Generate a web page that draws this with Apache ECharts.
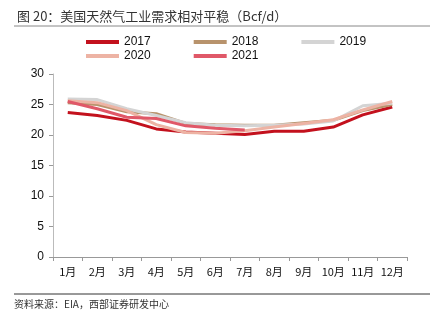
<!DOCTYPE html>
<html>
<head>
<meta charset="utf-8">
<script src="https://cdn.jsdelivr.net/npm/echarts@6/dist/echarts.min.js"></script>
<style>
  html, body { margin: 0; padding: 0; background: #fff; }
  #chart { width: 436px; height: 322px; }
</style>
</head>
<body>
<div id="chart"></div>
<script>
// US natural gas industrial demand by month, Bcf/d
const months = ['1月', '2月', '3月', '4月', '5月', '6月', '7月', '8月', '9月', '10月', '11月', '12月'];
const y2017 = [23.7, 23.2, 22.4, 21.0, 20.5, 20.3, 20.1, 20.6, 20.6, 21.3, 23.3, 24.6];
const y2018 = [25.3, 25.0, 23.8, 23.5, 21.9, 21.7, 21.6, 21.6, 22.0, 22.4, 24.0, 25.0];
const y2019 = [25.9, 25.8, 24.3, 23.2, 22.0, 21.6, 21.5, 21.6, 21.8, 22.3, 24.8, 25.2];
const y2020 = [25.6, 25.3, 24.0, 21.7, 20.4, 20.3, 20.7, 21.3, 21.9, 22.5, 24.1, 25.5];
const y2021 = [25.5, 24.3, 22.9, 22.7, 21.5, 21.1, 20.8];
const yTicks = [0, 5, 10, 15, 20, 25, 30];

const seriesDefs = [
  { name: '2017', data: y2017, color: '#C3111D' },
  { name: '2018', data: y2018, color: '#B8936C' },
  { name: '2019', data: y2019, color: '#D4D4D4' },
  { name: '2020', data: y2020, color: '#EDB3A4' },
  { name: '2021', data: y2021, color: '#E05868' }
];

const chart = echarts.init(document.getElementById('chart'), null, { renderer: 'canvas' });

const legendBase = {
  left: 81,
  itemWidth: 33,
  itemHeight: 4,
  itemGap: 43,
  icon: 'rect',
  textStyle: { fontFamily: 'Liberation Sans, Arial', fontSize: 12, color: '#111' },
  selectedMode: false
};

chart.setOption({
  animation: false,
  backgroundColor: '#fff',
  title: {
    text: '图 20：美国天然气工业需求相对平稳（Bcf/d）',
    left: 12,
    top: 5,
    textStyle: { fontFamily: 'Noto Sans CJK SC', fontSize: 13, fontWeight: 'normal', color: '#333' }
  },
  legend: [
    Object.assign({}, legendBase, { top: 31, data: ['2017', '2018', '2019'] }),
    Object.assign({}, legendBase, { top: 45, data: ['2020', '2021'] })
  ],
  grid: { left: 53, right: 29, top: 74, bottom: 65, containLabel: false },
  xAxis: {
    type: 'category',
    data: months,
    boundaryGap: true,
    axisLine: { lineStyle: { color: '#999', width: 1 } },
    axisTick: { show: true, length: 4, lineStyle: { color: '#999' } },
    axisLabel: { fontFamily: 'Noto Sans CJK SC', fontSize: 11, color: '#111', margin: 9, interval: 0 }
  },
  yAxis: {
    type: 'value',
    min: yTicks[0],
    max: yTicks[yTicks.length - 1],
    interval: 5,
    axisLine: { show: true, lineStyle: { color: '#bbb', width: 1 } },
    axisTick: { show: true, length: 4, lineStyle: { color: '#999' } },
    splitLine: { show: false },
    axisLabel: { fontFamily: 'Liberation Sans, Arial', fontSize: 12, color: '#111', margin: 9 }
  },
  series: seriesDefs.map(s => ({
    name: s.name,
    type: 'line',
    data: s.data,
    symbol: 'none',
    smooth: false,
    itemStyle: { color: s.color },
    lineStyle: { color: s.color, width: 3 }
  })),
  graphic: [
    { type: 'line', shape: { x1: 14, y1: 26, x2: 430, y2: 26 }, style: { stroke: '#888', lineWidth: 1 } },
    { type: 'line', shape: { x1: 14, y1: 294, x2: 430, y2: 294 }, style: { stroke: '#333', lineWidth: 1 } },
    {
      type: 'text', left: 14, top: 299,
      style: { text: '资料来源：EIA，西部证券研发中心', font: '10px "Noto Sans CJK SC"', fill: '#333' }
    }
  ]
});
</script>
</body>
</html>
